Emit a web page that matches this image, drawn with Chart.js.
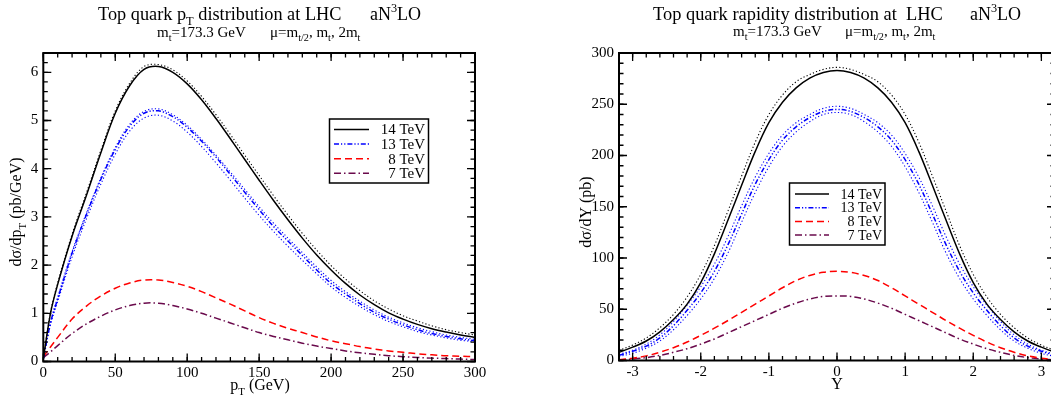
<!DOCTYPE html>
<html>
<head>
<meta charset="utf-8">
<script src="https://cdn.jsdelivr.net/npm/chart.js@4.4.1/dist/chart.umd.min.js"></script>
<style>
  html, body { margin: 0; padding: 0; background: #fff; overflow: hidden; width: 1051px; height: 406px; }
  canvas { position: absolute; top: 0; }
  #ptChart { left: 0; }
  #yChart { left: 540px; }
</style>
</head>
<body>
<canvas id="ptChart" width="530" height="406"></canvas>
<canvas id="yChart" width="540" height="406"></canvas>
<script>
// ---- data: top quark pT distribution (pb/GeV) ----
const ptBins = [0, 5, 10, 20, 30, 40, 50, 60, 70, 80, 90, 100, 110, 120, 130, 140, 150, 160, 170, 180, 190, 200, 210, 220, 230, 240, 250, 260, 270, 280, 290, 300];
const pt14 = [0.05, 1.0, 1.6, 2.6, 3.45, 4.33, 5.15, 5.72, 6.06, 6.12, 6.0, 5.76, 5.43, 5.04, 4.62, 4.19, 3.76, 3.34, 2.94, 2.56, 2.21, 1.9, 1.62, 1.38, 1.18, 1.01, 0.88, 0.77, 0.68, 0.61, 0.55, 0.5];
const pt14Up = [0.05, 1.02, 1.63, 2.64, 3.5, 4.38, 5.2, 5.77, 6.12, 6.16, 6.05, 5.82, 5.5, 5.12, 4.71, 4.28, 3.86, 3.44, 3.04, 2.66, 2.31, 1.99, 1.71, 1.47, 1.26, 1.09, 0.95, 0.84, 0.74, 0.66, 0.6, 0.55];
const pt13 = [0.05, 0.8, 1.3, 2.25, 3.05, 3.78, 4.4, 4.88, 5.15, 5.2, 5.08, 4.86, 4.57, 4.24, 3.88, 3.51, 3.15, 2.8, 2.5, 2.2, 1.9, 1.62, 1.4, 1.2, 1.02, 0.88, 0.76, 0.66, 0.58, 0.52, 0.47, 0.43];
const pt13Up = [0.05, 0.82, 1.33, 2.28, 3.08, 3.81, 4.44, 4.92, 5.19, 5.24, 5.12, 4.9, 4.61, 4.28, 3.93, 3.57, 3.21, 2.87, 2.56, 2.26, 1.96, 1.68, 1.45, 1.25, 1.07, 0.92, 0.8, 0.7, 0.62, 0.55, 0.5, 0.46];
const pt13Low = [0.05, 0.76, 1.24, 2.17, 2.96, 3.68, 4.3, 4.78, 5.05, 5.11, 4.99, 4.76, 4.46, 4.12, 3.76, 3.39, 3.03, 2.7, 2.39, 2.1, 1.82, 1.55, 1.33, 1.14, 0.97, 0.83, 0.72, 0.62, 0.55, 0.49, 0.44, 0.41];
const pt8 = [0.1, 0.3, 0.5, 0.88, 1.15, 1.36, 1.52, 1.63, 1.69, 1.69, 1.64, 1.56, 1.45, 1.32, 1.19, 1.05, 0.91, 0.79, 0.69, 0.6, 0.51, 0.43, 0.37, 0.31, 0.26, 0.22, 0.19, 0.16, 0.14, 0.12, 0.11, 0.1];
const pt7 = [0.08, 0.2, 0.33, 0.58, 0.78, 0.94, 1.07, 1.16, 1.21, 1.21, 1.16, 1.09, 1.0, 0.9, 0.8, 0.7, 0.6, 0.52, 0.45, 0.38, 0.32, 0.27, 0.22, 0.18, 0.15, 0.12, 0.1, 0.085, 0.07, 0.06, 0.05, 0.04];

// ---- data: top quark rapidity distribution (pb) ----
const yBins = [-3.2, -3.0, -2.8, -2.6, -2.4, -2.2, -2.0, -1.8, -1.6, -1.4, -1.2, -1.0, -0.8, -0.6, -0.4, -0.2, 0, 0.2, 0.4, 0.6, 0.8, 1.0, 1.2, 1.4, 1.6, 1.8, 2.0, 2.2, 2.4, 2.6, 2.8, 3.0, 3.2];
const y14 = [8, 13, 19, 28, 40, 55, 76, 104, 137, 171, 204, 232, 252, 266, 275.5, 281, 283, 281, 275.5, 266, 252, 232, 204, 171, 137, 104, 76, 55, 40, 28, 19, 13, 8];
const y14Up = [10, 15, 22, 32, 45, 62, 84, 112, 146, 180, 213, 240, 259, 272, 279, 284, 286, 284, 279, 272, 259, 240, 213, 180, 146, 112, 84, 62, 45, 32, 22, 15, 10];
const y13 = [5, 9, 14, 22, 34, 49, 66, 87, 113, 143, 172, 196, 215, 228, 237, 243, 245, 243, 237, 228, 215, 196, 172, 143, 113, 87, 66, 49, 34, 22, 14, 9, 5];
const y13Up = [6, 10, 16, 25, 38, 54, 72, 94, 121, 151, 179, 202, 220, 232, 240, 246, 248, 246, 240, 232, 220, 202, 179, 151, 121, 94, 72, 54, 38, 25, 16, 10, 6];
const y13Low = [4, 7, 12, 19, 30, 44, 60, 80, 105, 135, 164, 189, 209, 223, 233, 240, 242, 240, 233, 223, 209, 189, 164, 135, 105, 80, 60, 44, 30, 19, 12, 7, 4];
const y8 = [0.8, 2.2, 4.5, 8, 12.5, 18, 24.5, 31.5, 39, 47, 55, 63, 71, 78, 83, 86, 87, 86, 83, 78, 71, 63, 55, 47, 39, 31.5, 24.5, 18, 12.5, 8, 4.5, 2.2, 0.8];
const y7 = [0.5, 1.4, 2.8, 5, 8, 11.5, 16, 21, 27, 33, 39, 45, 51, 56, 60, 62.5, 63, 62.5, 60, 56, 51, 45, 39, 33, 27, 21, 16, 11.5, 8, 5, 2.8, 1.4, 0.5];

const energies = ["14 TeV", "13 TeV", "8 TeV", "7 TeV"];

const FONT = '"Liberation Serif", "Times New Roman", serif';
const BLUE = "#0000ff", RED = "#ff0000", MAROON = "#6a0a4c";
const styles = [
  { color: "#000000", dash: [] },
  { color: BLUE, dash: [5, 2, 1.2, 2, 1.2, 2] },
  { color: RED, dash: [7, 4] },
  { color: MAROON, dash: [7, 3, 1.5, 3] }
];

function pts(xs, ys) {
  return xs.map((x, i) => ({ x: x, y: ys[i] }));
}

function mainLine(label, xs, ys, st) {
  return { label: label, data: pts(xs, ys), borderColor: st.color, borderDash: st.dash, borderWidth: 1.5 };
}

function dotLine(xs, ys, color) {
  return { label: "", data: pts(xs, ys), borderColor: color, borderDash: [1.2, 2.2], borderWidth: 1.1 };
}

// text with sub/superscripts; parts are strings or [text, "sub"|"sup"]
function drawRich(ctx, parts, x, y, size, align) {
  let w = 0;
  const items = parts.map(p => {
    const t = Array.isArray(p) ? p[0] : p;
    const k = Array.isArray(p) ? p[1] : "";
    const s = k ? size * 0.68 : size;
    ctx.font = `${s}px ${FONT}`;
    const tw = ctx.measureText(t).width;
    w += tw;
    return { t, k, s, tw };
  });
  let cx = align === "center" ? x - w / 2 : align === "right" ? x - w : x;
  items.forEach(it => {
    ctx.font = `${it.s}px ${FONT}`;
    const dy = it.k === "sub" ? size * 0.3 : it.k === "sup" ? -size * 0.42 : 0;
    ctx.fillText(it.t, cx, y + dy);
    cx += it.tw;
  });
}

// frame with inward ticks on all four sides, plus texts and legend
const decor = {
  id: "decor",
  afterDraw(chart, args, o) {
    const { ctx, chartArea: a, scales } = chart;
    const off = o.offset || 0;
    ctx.save();
    ctx.strokeStyle = "#000";
    ctx.lineWidth = 1.3;
    const ticks = (scale, step, len) => {
      const k0 = Math.ceil(scale.min / step - 1e-6);
      const k1 = Math.floor(scale.max / step + 1e-6);
      for (let k = k0; k <= k1; k++) {
        const p = scale.getPixelForValue(k * step);
        ctx.beginPath();
        if (scale.isHorizontal()) {
          ctx.moveTo(p, a.bottom); ctx.lineTo(p, a.bottom - len);
          ctx.moveTo(p, a.top); ctx.lineTo(p, a.top + len);
        } else {
          ctx.moveTo(a.left, p); ctx.lineTo(a.left + len, p);
          ctx.moveTo(a.right, p); ctx.lineTo(a.right - len, p);
        }
        ctx.stroke();
      }
    };
    ticks(scales.x, o.xMajor, 8);
    ticks(scales.x, o.xMinor, 4.5);
    ticks(scales.y, o.yMajor, 8);
    ticks(scales.y, o.yMinor, 4.5);
    ctx.lineWidth = 2;
    ctx.strokeRect(a.left, a.top, a.right - a.left, a.bottom - a.top);

    ctx.fillStyle = "#000";
    ctx.textBaseline = "alphabetic";
    ctx.textAlign = "left";
    o.texts.forEach(t => {
      if (t.rotate) {
        ctx.save();
        ctx.translate(t.x - off, t.y);
        ctx.rotate(-Math.PI / 2);
        drawRich(ctx, t.parts, 0, 0, t.size, t.align);
        ctx.restore();
      } else {
        drawRich(ctx, t.parts, t.x - off, t.y, t.size, t.align);
      }
    });

    const L = o.legend;
    ctx.lineWidth = 1.5;
    ctx.setLineDash([]);
    ctx.strokeRect(L.left - off, L.top, L.width, L.height);
    const named = chart.data.datasets.filter(d => d.label);
    named.forEach((d, i) => {
      const yy = L.row0 + i * L.gap;
      ctx.strokeStyle = d.borderColor;
      ctx.setLineDash(d.borderDash);
      ctx.lineWidth = 1.5;
      ctx.beginPath();
      ctx.moveTo(L.x1 - off, yy);
      ctx.lineTo(L.x2 - off, yy);
      ctx.stroke();
      ctx.setLineDash([]);
      drawRich(ctx, [d.label], L.textRight - off, yy + L.size * 0.33, L.size, "right");
    });
    ctx.restore();
  }
};
Chart.register(decor);

function fixX(h) {
  return s => { s.height = h; s.paddingLeft = 0; s.paddingRight = 0; };
}
function fixY(w) {
  return s => { s.width = w; s.paddingTop = 0; s.paddingBottom = 0; };
}

function makeOptions(cfg) {
  return {
    responsive: false,
    animation: false,
    layout: { padding: cfg.padding },
    elements: { point: { radius: 0 }, line: { tension: 0.35 } },
    plugins: { legend: { display: false }, tooltip: { enabled: false }, decor: cfg.decor },
    scales: {
      x: {
        type: "linear", min: cfg.xMin, max: cfg.xMax,
        grid: { display: false, drawTicks: false }, border: { display: false },
        afterFit: fixX(cfg.xHeight),
        ticks: { stepSize: cfg.decor.xMajor, includeBounds: false, autoSkip: false, maxRotation: 0,
                 padding: 3, color: "#000", font: { family: FONT, size: 15 } }
      },
      y: {
        type: "linear", min: cfg.yMin, max: cfg.yMax,
        grid: { display: false, drawTicks: false }, border: { display: false },
        afterFit: fixY(cfg.yWidth),
        ticks: { stepSize: cfg.decor.yMajor, includeBounds: false, autoSkip: false,
                 padding: 5, color: "#000", font: { family: FONT, size: 15 } }
      }
    }
  };
}

// ---- left: pT distribution ----
new Chart(document.getElementById("ptChart"), {
  type: "line",
  data: {
    datasets: [
      mainLine(energies[0], ptBins, pt14, styles[0]),
      mainLine(energies[1], ptBins, pt13, styles[1]),
      mainLine(energies[2], ptBins, pt8, styles[2]),
      mainLine(energies[3], ptBins, pt7, styles[3]),
      dotLine(ptBins, pt14Up, "#000000"),
      dotLine(ptBins, pt13Up, BLUE),
      dotLine(ptBins, pt13Low, BLUE)
    ]
  },
  options: makeOptions({
    padding: { top: 53, right: 55, left: 0, bottom: 0 },
    xMin: 0, xMax: 300, yMin: 0, yMax: 6.4, xHeight: 44.5, yWidth: 43.3,
    decor: {
      offset: 0, xMajor: 50, xMinor: 10, yMajor: 1, yMinor: 0.2,
      texts: [
        { x: 98, y: 20, size: 18.3, parts: ["Top quark p", ["T", "sub"], " distribution at LHC"] },
        { x: 370, y: 20, size: 18, parts: ["aN", ["3", "sup"], "LO"] },
        { x: 157, y: 36.5, size: 15, parts: ["m", ["t", "sub"], "=173.3 GeV"] },
        { x: 270, y: 36.5, size: 15, parts: ["\u03bc=m", ["t/2", "sub"], ", m", ["t", "sub"], ", 2m", ["t", "sub"]] },
        { x: 260, y: 390, size: 16, align: "center", parts: ["p", ["T", "sub"], " (GeV)"] },
        { x: 21, y: 212, size: 16, align: "center", rotate: true, parts: ["d\u03c3/dp", ["T", "sub"], " (pb/GeV)"] }
      ],
      legend: { left: 329.5, top: 119, width: 99, height: 64, row0: 129.5, gap: 14.6,
                x1: 334, x2: 369, textRight: 425, size: 15 }
    }
  })
});

// ---- right: rapidity distribution ----
new Chart(document.getElementById("yChart"), {
  type: "line",
  data: {
    datasets: [
      mainLine(energies[0], yBins, y14, styles[0]),
      mainLine(energies[1], yBins, y13, styles[1]),
      mainLine(energies[2], yBins, y8, styles[2]),
      mainLine(energies[3], yBins, y7, styles[3]),
      dotLine(yBins, y14Up, "#000000"),
      dotLine(yBins, y13Up, BLUE),
      dotLine(yBins, y13Low, BLUE)
    ]
  },
  options: makeOptions({
    padding: { top: 53, right: 25, left: 0, bottom: 0 },
    xMin: -3.2, xMax: 3.2, yMin: 0, yMax: 300, xHeight: 45.5, yWidth: 79,
    decor: {
      offset: 540, xMajor: 1, xMinor: 0.2, yMajor: 50, yMinor: 10,
      texts: [
        { x: 653, y: 20, size: 18.4, parts: ["Top quark rapidity distribution at  LHC"] },
        { x: 970, y: 20, size: 18, parts: ["aN", ["3", "sup"], "LO"] },
        { x: 733, y: 35.5, size: 15, parts: ["m", ["t", "sub"], "=173.3 GeV"] },
        { x: 845, y: 35.5, size: 15, parts: ["\u03bc=m", ["t/2", "sub"], ", m", ["t", "sub"], ", 2m", ["t", "sub"]] },
        { x: 837, y: 389, size: 16, align: "center", parts: ["Y"] },
        { x: 591, y: 212, size: 16, align: "center", rotate: true, parts: ["d\u03c3/dY (pb)"] }
      ],
      legend: { left: 789.5, top: 183, width: 95.5, height: 62, row0: 194, gap: 13.7,
                x1: 795, x2: 829, textRight: 882, size: 14 }
    }
  })
});
</script>
</body>
</html>
